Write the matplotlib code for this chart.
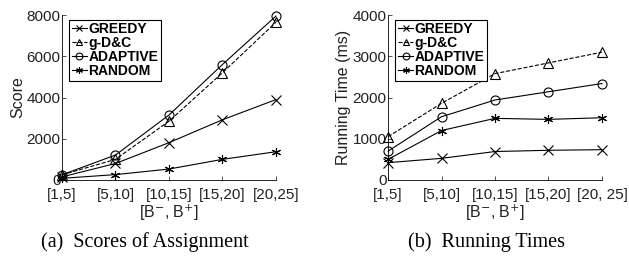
import numpy as np
import matplotlib.pyplot as plt

plt.rcParams['font.family'] = ['Liberation Sans', 'DejaVu Sans']

xlabels_a = ['[1,5]', '[5,10]', '[10,15]', '[15,20]', '[20,25]']
xlabels_b = ['[1,5]', '[5,10]', '[10,15]', '[15,20]', '[20, 25]']

# scores of assignment
score_greedy = [150, 800, 1810, 2920, 3900]
score_gdc = [250, 1000, 2850, 5200, 7650]
score_adaptive = [250, 1210, 3150, 5600, 7950]
score_random = [80, 260, 530, 1000, 1370]

# running times (ms)
time_greedy = [420, 525, 690, 720, 735]
time_gdc = [1050, 1860, 2580, 2840, 3100]
time_adaptive = [700, 1535, 1940, 2140, 2340]
time_random = [500, 1200, 1495, 1470, 1510]

names = ['GREEDY', 'g-D&C', 'ADAPTIVE', 'RANDOM']
markers = ['x', '^', 'o', (6, 2, 0)]
styles = ['-', '--', '-', '-']

fig = plt.figure(figsize=(6.29, 2.56), dpi=100)
ax1 = fig.add_axes([0.0986, 0.297, 0.340, 0.644])
ax2 = fig.add_axes([0.617, 0.297, 0.340, 0.644])

x = np.arange(1, 6)


def draw(ax, series, xlabels, ylim, yticks, ylabel):
    for s, name, m, ls in zip(series, names, markers, styles):
        ax.plot(x, s, color='black', lw=0.8, ls=ls, marker=m, markersize=6.5,
                markerfacecolor='none', markeredgewidth=0.8, label=name,
                clip_on=False)
    ax.set_xlim(1, 5)
    ax.set_ylim(*ylim)
    ax.set_xticks(x)
    ax.set_xticklabels(xlabels)
    ax.set_yticks(yticks)
    for sp in ['top', 'right']:
        ax.spines[sp].set_visible(False)
    ax.spines['left'].set_linewidth(0.6)
    ax.spines['bottom'].set_linewidth(0.6)
    ax.tick_params(direction='in', length=3, width=0.6, labelsize=11,
                   colors='#333333', labelcolor='#222222')
    ax.tick_params(axis='x', pad=6)
    ax.tick_params(axis='y', pad=1)
    ax.set_ylabel(ylabel, fontsize=11.5, labelpad=1, color='#222222')
    ax.set_xlabel('[B$^{-}$, B$^{+}$]', fontsize=11.5, labelpad=0, color='#222222')
    leg = ax.legend(loc='upper left', bbox_to_anchor=(0.02, 0.99), fancybox=False,
                    edgecolor='black', framealpha=1, handlelength=1.1,
                    handletextpad=0.1, borderpad=0.2, labelspacing=0.0,
                    borderaxespad=0.2, markerscale=0.75,
                    prop={'weight': 'bold', 'size': 10})
    leg.get_frame().set_linewidth(0.8)


draw(ax1, [score_greedy, score_gdc, score_adaptive, score_random], xlabels_a,
     (0, 8000), [0, 2000, 4000, 6000, 8000], 'Score')
draw(ax2, [time_greedy, time_gdc, time_adaptive, time_random], xlabels_b,
     (0, 4000), [0, 1000, 2000, 3000, 4000], 'Running Time (ms)')

fig.text(0.231, 0.035, '(a)  Scores of Assignment', ha='center', fontsize=14.5,
         family='Liberation Serif')
fig.text(0.773, 0.035, '(b)  Running Times', ha='center', fontsize=14.5,
         family='Liberation Serif')

fig.savefig('out.png', dpi=100)
